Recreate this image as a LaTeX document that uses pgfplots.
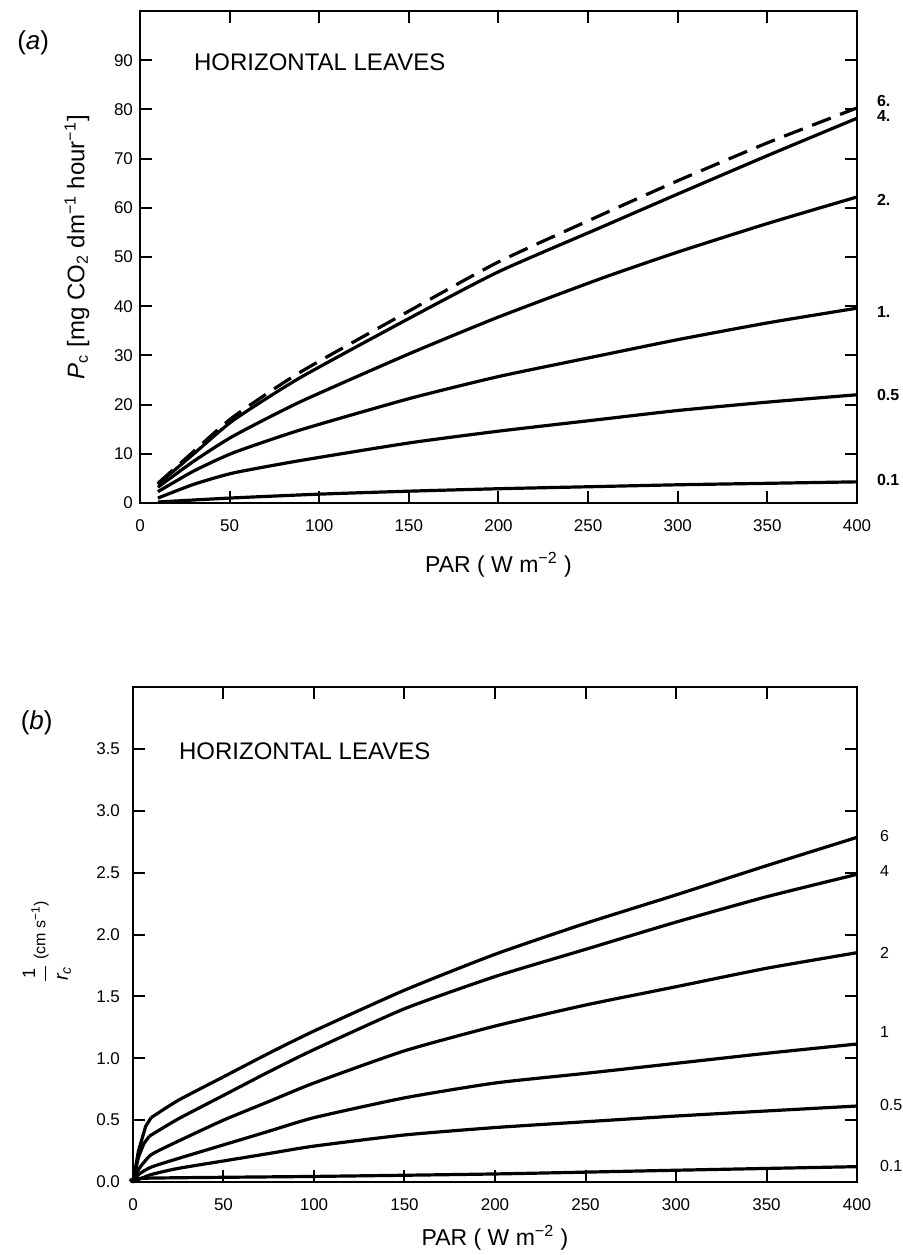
\documentclass[border=0pt]{standalone}
\usepackage{pgfplots}
\pgfplotsset{compat=1.18}
\usepackage{fontspec}
\setmainfont{Liberation Sans}

\pgfplotsset{
  panel/.style={
    scale only axis, clip=false,
    axis line style={line width=1.1pt},
    tick style={line width=1pt, black},
    major tick length=6pt,
    tick align=inside,
    xmin=0, xmax=400,
    xtick={0,50,...,400},
    /pgf/number format/assume math mode=true,
    ticklabel style={font=\fontsize{8.5}{10}\selectfont},
    xticklabel style={yshift=-5pt},
    label style={font=\fontsize{11.5}{13}\selectfont},
    cycle list={{black, solid}},
    every axis plot/.append style={no markers, smooth, tension=0.35},
    every axis plot post/.append style={line width=1.6pt, black},
  },
}
\tikzset{curvelabel/.style={anchor=west, font=\fontsize{8}{9}\selectfont}}

\begin{document}
\begin{tikzpicture}
\useasboundingbox (0,0) rectangle (451pt,627.5pt);

% ---------------- (a) net photosynthesis ----------------
\begin{axis}[panel,
  at={(70pt,376pt)}, anchor=south west,
  width=358.5pt, height=246pt,
  ymin=0, ymax=100, ytick={0,10,...,90},
  xlabel={PAR ( W m\textsuperscript{−2} )},
  xlabel style={at={(rel axis cs:0.5,-0.126)}, anchor=center},
  ylabel={\textit{P}\textsubscript{c} [mg CO\textsubscript{2} dm\textsuperscript{−1} hour\textsuperscript{−1}]},
  ylabel style={at={(rel axis cs:-0.088,0.52)}, anchor=center, font=\fontsize{12}{14}\selectfont},
]
% LAI 6 (dashed)
\addplot+[dash pattern=on 10pt off 5pt] coordinates {
  (10,4.0) (30,10.5) (52,17.5) (89,26.5) (150,39.0) (200,49.0)
  (257,58.5) (300,65.5) (350,73.2) (400,80.3)};
% LAI 4
\addplot coordinates {
  (10,3.8) (30,10.0) (52,16.8) (89,25.4) (150,37.5) (200,47.0)
  (257,56.0) (300,62.8) (350,70.6) (400,78.2)};
% LAI 2
\addplot coordinates {
  (10,3.2) (30,8.5) (52,13.6) (89,20.5) (150,30.3) (200,37.8)
  (257,45.6) (300,51.0) (350,56.8) (400,62.2)};
% LAI 1
\addplot coordinates {
  (10,2.3) (30,6.5) (52,10.2) (89,14.8) (150,21.2) (200,25.7)
  (257,30.0) (300,33.2) (350,36.6) (400,39.6)};
% LAI 0.5
\addplot coordinates {
  (10,1.0) (30,3.8) (52,6.1) (89,8.6) (150,12.2) (200,14.6)
  (257,17.0) (300,18.8) (350,20.5) (400,22.0)};
% LAI 0.1
\addplot coordinates {
  (10,0.2) (50,1.0) (100,1.8) (150,2.4) (200,2.9) (250,3.3)
  (300,3.7) (350,4.0) (400,4.3)};

\node[font=\fontsize{13}{15}\selectfont] at (rel axis cs:-0.149,0.935) {(\textit{a})};
\node[anchor=west, font=\fontsize{12}{14}\selectfont] at (rel axis cs:0.0656,0.896) {HORIZONTAL LEAVES};
\node[curvelabel, font=\bfseries\fontsize{8}{9}\selectfont] at (axis cs:400,81.8) [xshift=6.5pt] {6.};
\node[curvelabel, font=\bfseries\fontsize{8}{9}\selectfont] at (axis cs:400,78.7) [xshift=6.5pt] {4.};
\node[curvelabel, font=\bfseries\fontsize{8}{9}\selectfont] at (axis cs:400,61.6) [xshift=6.5pt] {2.};
\node[curvelabel, font=\bfseries\fontsize{8}{9}\selectfont] at (axis cs:400,38.8) [xshift=6.5pt] {1.};
\node[curvelabel, font=\bfseries\fontsize{8}{9}\selectfont] at (axis cs:400,22.0) [xshift=6.5pt] {0.5};
\node[curvelabel, font=\bfseries\fontsize{8}{9}\selectfont] at (axis cs:400,4.7) [xshift=6.5pt] {0.1};
\end{axis}

% ---------------- (b) canopy conductance ----------------
\begin{axis}[panel,
  at={(66.5pt,36.5pt)}, anchor=south west,
  width=362pt, height=247.5pt,
  ymin=0, ymax=4, ytick={0,0.5,...,3.5},
  yticklabel style={xshift=-3pt, /pgf/number format/.cd, fixed, fixed zerofill, precision=1},
  xlabel={PAR ( W m\textsuperscript{−2} )},
  xlabel style={at={(rel axis cs:0.5,-0.113)}, anchor=center},
  ylabel={$\displaystyle\frac{\mbox{\fontsize{9}{10}\selectfont 1}}{\mbox{\fontsize{10}{11}\selectfont\itshape r\textsubscript{c}}}$\,\raisebox{3pt}{\fontsize{8}{9}\selectfont (cm s\textsuperscript{−1})}},
  ylabel style={at={(rel axis cs:-0.119,0.485)}, anchor=center},
]
% LAI 6
\addplot+[sharp plot] coordinates {
  (0,0) (3,0.25) (7,0.45) (10,0.52)};
\addplot coordinates {
  (10,0.52) (25,0.66) (50,0.85) (75,1.04) (100,1.22)
  (150,1.55) (200,1.84) (250,2.09) (300,2.32) (350,2.556) (400,2.785)};
% LAI 4
\addplot+[sharp plot] coordinates {
  (0,0) (3,0.20) (6,0.31) (9,0.37)};
\addplot coordinates {
  (9,0.37) (25,0.51) (50,0.70) (75,0.89) (100,1.07)
  (150,1.40) (200,1.66) (250,1.88) (300,2.10) (350,2.305) (400,2.486)};
% LAI 2
\addplot coordinates {
  (0,0) (3,0.10) (10,0.22) (25,0.33) (50,0.50) (75,0.65) (100,0.80)
  (150,1.06) (200,1.26) (250,1.43) (300,1.578) (350,1.727) (400,1.853)};
% LAI 1
\addplot coordinates {
  (0,0) (3,0.06) (10,0.12) (25,0.19) (50,0.30) (75,0.41) (100,0.52)
  (150,0.68) (200,0.80) (250,0.878) (300,0.959) (350,1.04) (400,1.115)};
% LAI 0.5
\addplot coordinates {
  (0,0) (10,0.06) (25,0.11) (50,0.17) (75,0.23) (100,0.29)
  (150,0.38) (200,0.44) (250,0.487) (300,0.533) (350,0.574) (400,0.614)};
% LAI 0.1
\addplot coordinates {
  (0,0) (5,0.03) (100,0.045) (200,0.065) (300,0.095) (400,0.124)};

\node[font=\fontsize{13}{15}\selectfont] at (rel axis cs:-0.133,0.927) {(\textit{b})};
\node[anchor=west, font=\fontsize{12}{14}\selectfont] at (rel axis cs:0.054,0.871) {HORIZONTAL LEAVES};
\node[curvelabel] at (axis cs:400,2.80) [xshift=8pt] {6};
\node[curvelabel] at (axis cs:400,2.51) [xshift=8pt] {4};
\node[curvelabel] at (axis cs:400,1.85) [xshift=8pt] {2};
\node[curvelabel] at (axis cs:400,1.21) [xshift=8pt] {1};
\node[curvelabel] at (axis cs:400,0.62) [xshift=8pt] {0.5};
\node[curvelabel] at (axis cs:400,0.13) [xshift=8pt] {0.1};
\end{axis}
\end{tikzpicture}
\end{document}
